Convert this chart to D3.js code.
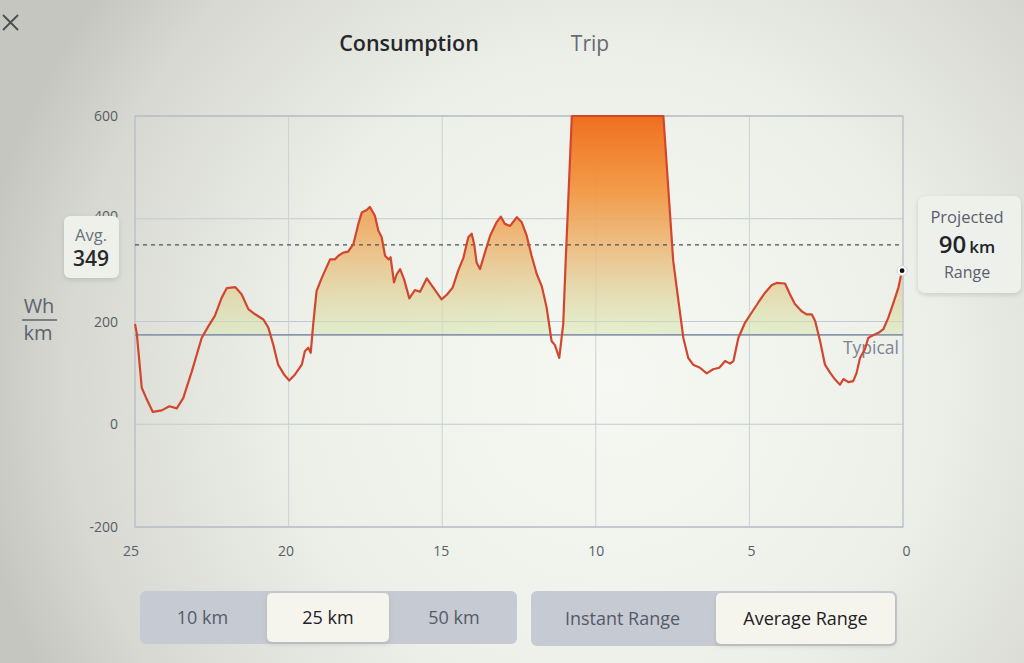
<!DOCTYPE html>
<html>
<head>
<meta charset="utf-8">
<script src="https://cdn.jsdelivr.net/npm/d3@7"></script>
<style>
  html, body { margin: 0; padding: 0; background: #e2e4de; }
  svg { display: block; font-family: "Open Sans", "DejaVu Sans", sans-serif; }
</style>
</head>
<body>
<script>
// distance remaining (km) and consumption (Wh/km)
const distKm = [25.00, 24.94, 24.78, 24.62, 24.42, 24.13, 23.88, 23.64, 23.43, 23.15,
  22.83, 22.61, 22.40, 22.18, 22.01, 21.74, 21.53, 21.31, 21.09, 20.82,
  20.66, 20.50, 20.34, 20.15, 19.98, 19.79, 19.57, 19.47, 19.36, 19.28,
  19.20, 19.09, 18.92, 18.65, 18.49, 18.38, 18.22, 18.06, 17.89, 17.73,
  17.62, 17.46, 17.35, 17.19, 17.08, 16.97, 16.86, 16.75, 16.68, 16.57,
  16.48, 16.37, 16.24, 16.07, 15.89, 15.72, 15.50, 15.29, 15.02, 14.85,
  14.66, 14.48, 14.31, 14.15, 14.04, 13.96, 13.88, 13.77, 13.61, 13.44,
  13.23, 13.09, 12.96, 12.79, 12.57, 12.41, 12.25, 12.09, 11.92, 11.76,
  11.60, 11.44, 11.33, 11.19, 11.06, 10.98, 10.78, 9.50, 8.50, 7.80,
  7.48, 7.31, 7.15, 6.99, 6.83, 6.61, 6.39, 6.18, 5.98, 5.79,
  5.63, 5.52, 5.36, 5.14, 4.93, 4.71, 4.49, 4.27, 4.11, 3.84,
  3.68, 3.52, 3.30, 3.14, 2.97, 2.86, 2.70, 2.54, 2.37, 2.21,
  2.05, 1.94, 1.78, 1.62, 1.51, 1.40, 1.24, 1.13, 1.02, 0.80,
  0.64, 0.48, 0.29, 0.15, 0.03];
const whPerKm = [195, 176, 71, 49, 24, 27, 35, 31, 51, 103,
  168, 191, 211, 246, 265, 267, 253, 224, 214, 204,
  188, 155, 116, 97, 85, 97, 116, 142, 149, 139,
  194, 259, 285, 321, 321, 328, 334, 336, 351, 390,
  412, 417, 423, 406, 377, 364, 328, 321, 325, 276,
  292, 302, 282, 245, 261, 258, 284, 266, 243, 252,
  266, 299, 324, 364, 371, 351, 315, 302, 334, 367,
  393, 404, 390, 386, 403, 393, 367, 328, 292, 269,
  227, 162, 154, 129, 195, 318, 600, 600, 600, 600,
  318, 240, 168, 129, 116, 110, 99, 107, 110, 123,
  118, 123, 168, 198, 217, 237, 256, 271, 275, 274,
  253, 234, 220, 214, 214, 201, 162, 116, 100, 87,
  77, 88, 82, 84, 100, 129, 146, 168, 172, 178,
  185, 207, 240, 266, 299];

const xTicks = [25, 20, 15, 10, 5, 0];
const xGrid = [20, 15, 10, 5];
const yTicks = [600, 400, 200, 0, -200];
const avgValue = 349;
const typicalValue = 174;
const projectedKm = 90;
const distanceButtons = ["10 km", "25 km", "50 km"];
const rangeButtons = ["Instant Range", "Average Range"];

const W = 1024, H = 663;
const svg = d3.select("body").append("svg")
  .attr("width", W).attr("height", H);

const defs = svg.append("defs");

// photo-like screen background
const bg = defs.append("radialGradient").attr("id", "bg")
  .attr("gradientUnits", "userSpaceOnUse")
  .attr("cx", 610).attr("cy", 380).attr("r", 640);
bg.append("stop").attr("offset", "0").attr("stop-color", "#f6f9f3");
bg.append("stop").attr("offset", "0.5").attr("stop-color", "#edf0e9");
bg.append("stop").attr("offset", "0.85").attr("stop-color", "#d6d8d1");
bg.append("stop").attr("offset", "1").attr("stop-color", "#c4c6bf");

const shadow = defs.append("filter").attr("id", "shadow")
  .attr("x", "-20%").attr("y", "-20%").attr("width", "140%").attr("height", "150%");
shadow.append("feDropShadow").attr("dx", 0).attr("dy", 2)
  .attr("stdDeviation", 2.5).attr("flood-color", "#8a8d88").attr("flood-opacity", 0.35);

svg.append("rect").attr("width", W).attr("height", H).attr("fill", "url(#bg)");

// scales
const x = d3.scaleLinear().domain([25, 0]).range([135, 903]);
const y = d3.scaleLinear().domain([-200, 600]).range([527, 116]);

// fill gradient by value
const fillGrad = defs.append("linearGradient").attr("id", "fillGrad")
  .attr("gradientUnits", "userSpaceOnUse")
  .attr("x1", 0).attr("x2", 0).attr("y1", y(600)).attr("y2", y(typicalValue));
[[0, "#f06f1e", 1], [0.35, "#f29844", 0.95], [0.6, "#ecb674", 0.85],
 [0.8, "#e0cf96", 0.7], [1, "#d4e6ae", 0.5]].forEach(s => {
  fillGrad.append("stop").attr("offset", s[0])
    .attr("stop-color", s[1]).attr("stop-opacity", s[2]);
});

// grid
const grid = svg.append("g");
grid.selectAll(".hgrid").data(yTicks).enter().append("line")
  .attr("x1", x(25)).attr("x2", x(0))
  .attr("y1", d => y(d)).attr("y2", d => y(d))
  .attr("stroke", "#c4c9d0").attr("stroke-width", 1);
grid.selectAll(".vgrid").data(xGrid).enter().append("line")
  .attr("x1", d => x(d)).attr("x2", d => x(d))
  .attr("y1", y(600)).attr("y2", y(-200))
  .attr("stroke", "#ccd1d6").attr("stroke-width", 1);
grid.append("rect")
  .attr("x", x(25)).attr("y", y(600))
  .attr("width", x(0) - x(25)).attr("height", y(-200) - y(600))
  .attr("fill", "none").attr("stroke", "#b4bac6").attr("stroke-width", 1.2);

const data = distKm.map((d, i) => ({ d: d, v: whPerKm[i] }));

// area between curve and typical line
const area = d3.area()
  .x(p => x(p.d))
  .y0(y(typicalValue))
  .y1(p => y(Math.max(p.v, typicalValue)));
svg.append("path").datum(data)
  .attr("d", area).attr("fill", "url(#fillGrad)");

// typical line
svg.append("line")
  .attr("x1", x(25)).attr("x2", x(0))
  .attr("y1", y(typicalValue)).attr("y2", y(typicalValue))
  .attr("stroke", "#8c96aa").attr("stroke-width", 1.6);
svg.append("text")
  .attr("x", x(0) - 4).attr("y", y(typicalValue) + 19)
  .attr("text-anchor", "end").attr("font-size", 17.5).attr("font-weight", 500)
  .attr("fill", "#7a8495").text("Typical");

// average dotted line
svg.append("line")
  .attr("x1", x(25)).attr("x2", x(0))
  .attr("y1", y(avgValue)).attr("y2", y(avgValue))
  .attr("stroke", "#4d5257").attr("stroke-width", 1.3)
  .attr("stroke-dasharray", "4,4");

// consumption line
const line = d3.line().x(p => x(p.d)).y(p => y(p.v));
svg.append("path").datum(data)
  .attr("d", line).attr("fill", "none")
  .attr("stroke", "#d2462f").attr("stroke-width", 2.2)
  .attr("stroke-linejoin", "round");

// end dot
const last = data[data.length - 1];
svg.append("circle").attr("cx", x(last.d)).attr("cy", y(last.v)).attr("r", 5)
  .attr("fill", "#ffffff").attr("stroke", "#c8c8c8").attr("stroke-width", 0.8);
svg.append("circle").attr("cx", x(last.d)).attr("cy", y(last.v)).attr("r", 2.4)
  .attr("fill", "#111");

// y tick labels (400 sits mostly behind the Avg. box)
svg.selectAll(".ylab").data(yTicks).enter().append("text")
  .attr("x", 118).attr("y", d => y(d) + (d === 400 ? 2 : 5))
  .attr("text-anchor", "end").attr("font-size", 14).attr("font-weight", 500)
  .attr("fill", "#5a5e66").text(d => d);

// x tick labels
svg.selectAll(".xlab").data(xTicks).enter().append("text")
  .attr("x", d => x(d) - 4 + (25 - d) * 0.3).attr("y", 556)
  .attr("text-anchor", "middle").attr("font-size", 14).attr("font-weight", 500)
  .attr("fill", "#5a5e66").text(d => d);

// unit label
const unit = svg.append("g").attr("fill", "#5c6370").attr("font-size", 20)
  .attr("font-weight", 500).attr("text-anchor", "middle");
unit.append("text").attr("x", 39).attr("y", 313).text("Wh");
unit.append("line").attr("x1", 22).attr("x2", 57).attr("y1", 320).attr("y2", 320)
  .attr("stroke", "#5c6370").attr("stroke-width", 1.6);
unit.append("text").attr("x", 38).attr("y", 340).text("km");

// average box
const avgBox = svg.append("g");
avgBox.append("rect").attr("x", 64).attr("y", 216).attr("width", 55).attr("height", 62)
  .attr("rx", 6).attr("fill", "#eef0ea").attr("filter", "url(#shadow)");
avgBox.append("text").attr("x", 91).attr("y", 241).attr("text-anchor", "middle")
  .attr("font-size", 16.5).attr("font-weight", 500).attr("fill", "#6a707c").text("Avg.");
avgBox.append("text").attr("x", 91).attr("y", 266).attr("text-anchor", "middle")
  .attr("font-size", 21).attr("font-weight", 600).attr("fill", "#26282c").text(avgValue);

// projected box
const proj = svg.append("g");
proj.append("rect").attr("x", 918).attr("y", 196).attr("width", 103).attr("height", 97)
  .attr("rx", 7).attr("fill", "#eef0ec").attr("filter", "url(#shadow)");
proj.append("text").attr("x", 967).attr("y", 223).attr("text-anchor", "middle")
  .attr("font-size", 16.5).attr("font-weight", 500).attr("fill", "#5a5f69").text("Projected");
const projVal = proj.append("text").attr("x", 967).attr("y", 253).attr("text-anchor", "middle");
projVal.append("tspan").attr("font-size", 24).attr("font-weight", 600)
  .attr("fill", "#222428").text(projectedKm);
projVal.append("tspan").attr("font-size", 17).attr("font-weight", 600)
  .attr("fill", "#222428").attr("dx", 3).text("km");
proj.append("text").attr("x", 967).attr("y", 278).attr("text-anchor", "middle")
  .attr("font-size", 16).attr("font-weight", 500).attr("fill", "#5a5f69").text("Range");

// header: close icon, tabs
svg.append("path").attr("d", "M3,15L18,30M18,15L3,30")
  .attr("stroke", "#4a4d52").attr("stroke-width", 1.8).attr("fill", "none");
svg.append("text").attr("x", 409).attr("y", 51).attr("text-anchor", "middle")
  .attr("font-size", 21.5).attr("font-weight", 600).attr("fill", "#25272b").text("Consumption");
svg.append("text").attr("x", 590).attr("y", 51).attr("text-anchor", "middle")
  .attr("font-size", 21).attr("font-weight", 500).attr("fill", "#666b73").text("Trip");

// segmented buttons
function segmented(x0, y0, width, height, labels, widths, selected) {
  const g = svg.append("g");
  g.append("rect").attr("x", x0).attr("y", y0).attr("width", width).attr("height", height)
    .attr("rx", 6).attr("fill", "#c6cad2");
  let cx = x0;
  labels.forEach((lab, i) => {
    const w = widths[i];
    if (i === selected) {
      g.append("rect").attr("x", cx + 2).attr("y", y0 + 2).attr("width", w - 4)
        .attr("height", height - 4).attr("rx", 5).attr("fill", "#f5f5ee")
        .attr("filter", "url(#shadow)");
    }
    g.append("text").attr("x", cx + w / 2).attr("y", y0 + height / 2 + 6)
      .attr("text-anchor", "middle").attr("font-size", 18).attr("font-weight", 500)
      .attr("fill", i === selected ? "#1f2124" : "#555b68").text(lab);
    cx += w;
  });
}
segmented(140, 591, 377, 53, distanceButtons, [125, 126, 126], 1);
segmented(531, 591, 366, 55, rangeButtons, [183, 183], 1);
</script>
</body>
</html>
